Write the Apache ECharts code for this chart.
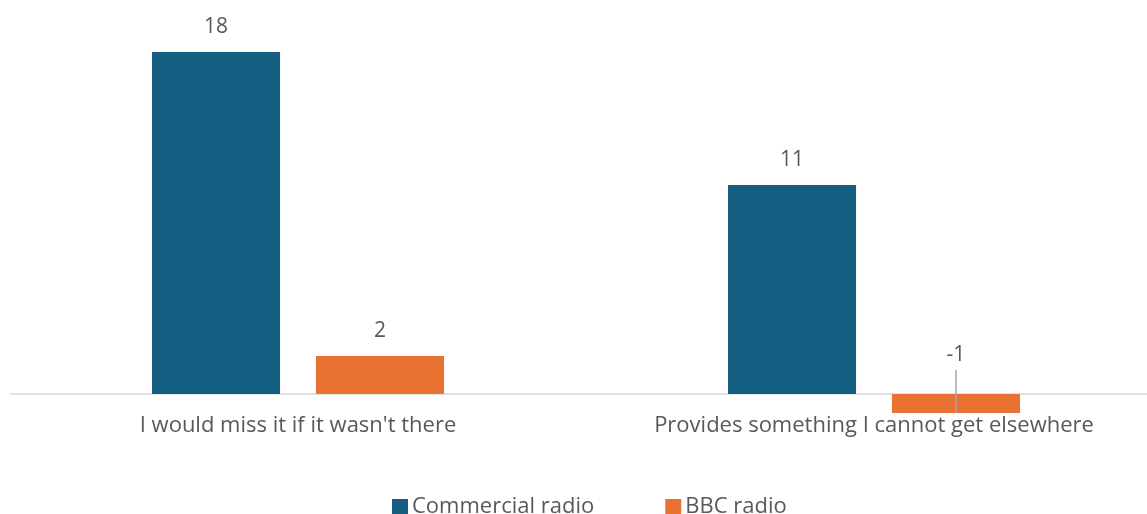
<!DOCTYPE html>
<html>
<head>
<meta charset="utf-8">
<script src="https://cdn.jsdelivr.net/npm/echarts@6/dist/echarts.min.js"></script>
<style>
  html, body { margin: 0; padding: 0; background: #fff; }
  #chart { width: 1147px; height: 514px; }
</style>
</head>
<body>
<div id="chart"></div>
<script>
const categories = ["I would miss it if it wasn't there", "Provides something I cannot get elsewhere"];
const seriesNames = ["Commercial radio", "BBC radio"];
const commercialValues = [18, 11];
const bbcValues = [2, -1];

const FONT = '"Open Sans", "Liberation Sans", Arial, sans-serif';
const TEXT = '#595959';

// Negative values get their label lifted above the zero line
function withLabels(values) {
  return values.map(v => v < 0
    ? { value: v, label: { position: 'top', offset: [0, -14] } }
    : v);
}

const chart = echarts.init(document.getElementById('chart'));
chart.setOption({
  animation: false,
  textStyle: { fontFamily: FONT },
  grid: { left: 10, top: 14, width: 1152, height: 399, containLabel: false, outerBoundsMode: 'none' },
  legend: {
    top: 491,
    left: 387,
    itemWidth: 16,
    itemHeight: 16,
    itemGap: 71,
    icon: 'rect',
    data: seriesNames,
    textStyle: { color: TEXT, fontSize: 22, fontFamily: FONT, padding: [0, 0, 0, -1] }
  },
  xAxis: {
    type: 'category',
    data: categories,
    axisLine: { onZero: true, lineStyle: { color: '#d9d9d9', width: 1.5 } },
    axisTick: { show: false },
    axisLabel: { color: TEXT, fontSize: 22, margin: 2, fontFamily: FONT }
  },
  yAxis: {
    type: 'value',
    min: -1,
    max: 20,
    show: false,
    splitLine: { show: false }
  },
  series: [
    {
      name: seriesNames[0],
      type: 'bar',
      data: withLabels(commercialValues),
      itemStyle: { color: '#156082' },
      barGap: '28%',
      barCategoryGap: '49.3%',
      label: { show: true, position: 'top', distance: 14, color: TEXT, fontSize: 21, fontFamily: FONT }
    },
    {
      name: seriesNames[1],
      type: 'bar',
      data: withLabels(bbcValues),
      itemStyle: { color: '#E97132' },
      label: { show: true, position: 'top', distance: 14, color: TEXT, fontSize: 21, fontFamily: FONT }
    }
  ]
});

// Leader lines from lifted labels down through their bars
function drawLeaders() {
  const elements = [];
  const data = chart.getModel().getSeriesByIndex(1).getData();
  const zeroY = chart.convertToPixel({ yAxisIndex: 0 }, 0);
  bbcValues.forEach((v, i) => {
    if (v >= 0) return;
    const r = data.getItemLayout(i);
    const cx = r.x + r.width / 2;
    const bottom = Math.max(r.y, r.y + r.height);
    elements.push({
      type: 'line',
      shape: { x1: cx, y1: zeroY - 24, x2: cx, y2: bottom },
      style: { stroke: '#a6a6a6', lineWidth: 1.5 },
      z: 10
    });
  });
  chart.setOption({ graphic: elements });
}
drawLeaders();
</script>
</body>
</html>
